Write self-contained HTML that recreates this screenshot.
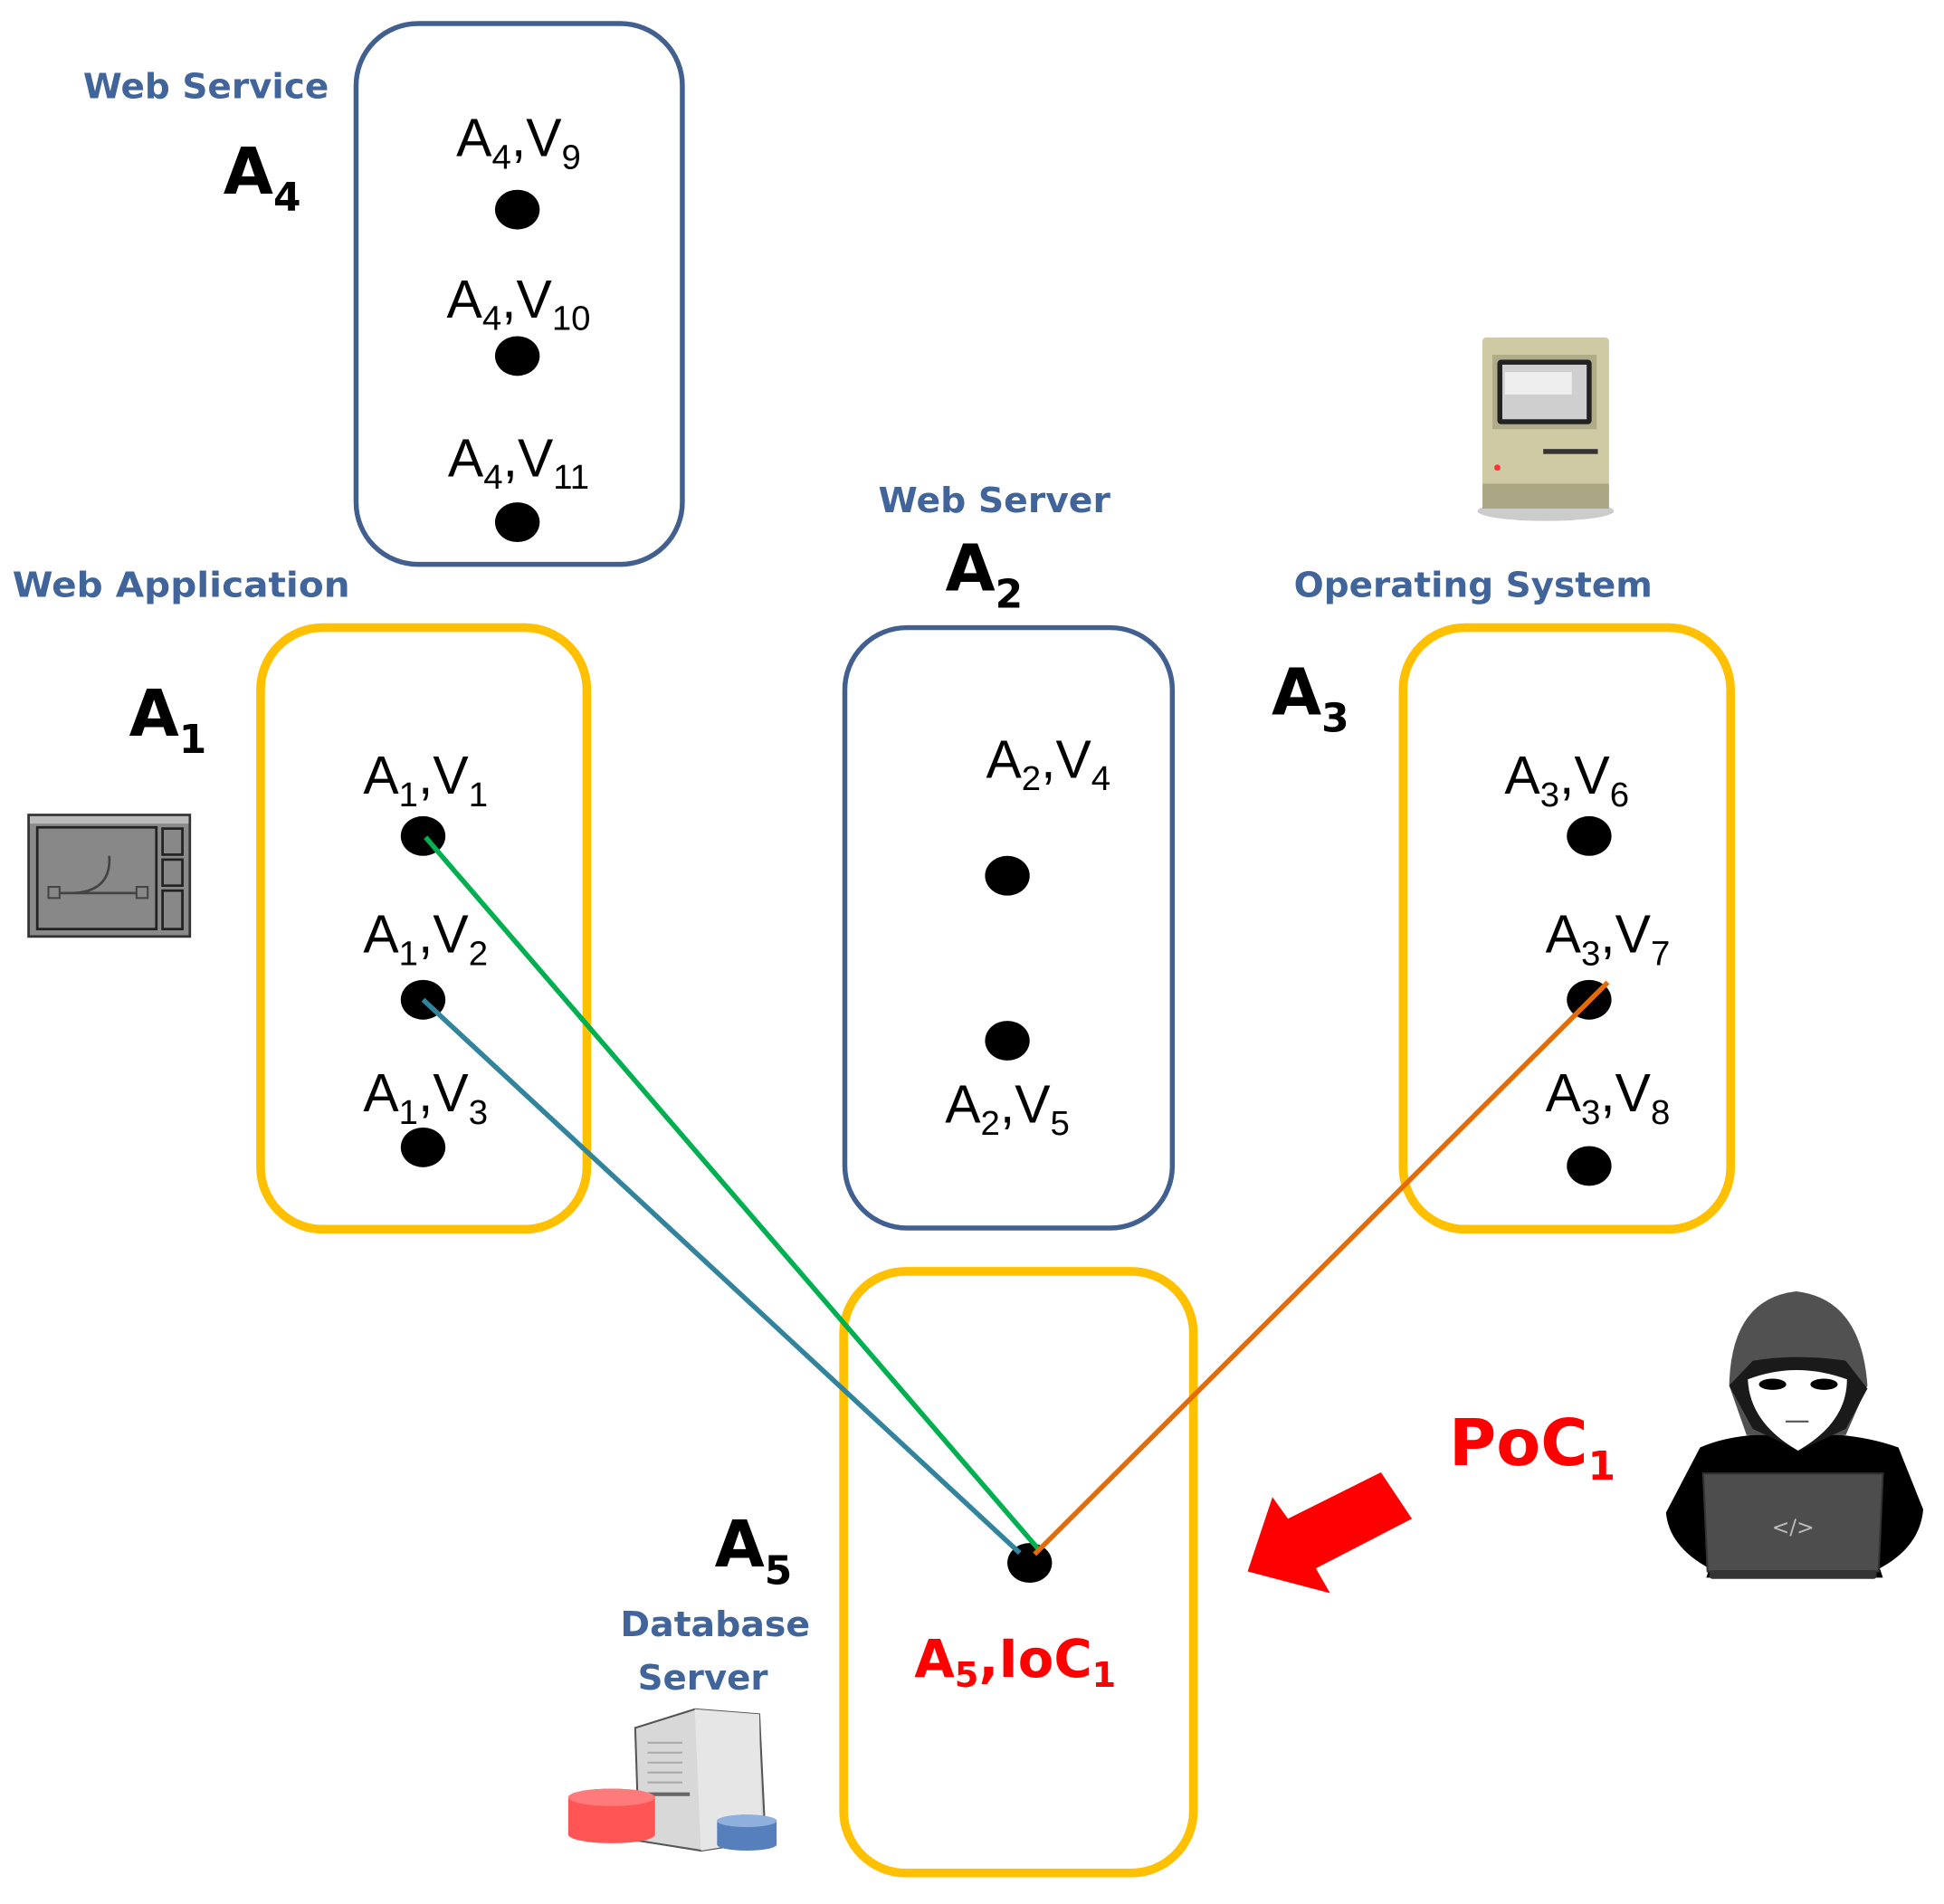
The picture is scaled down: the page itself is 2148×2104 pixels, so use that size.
<!DOCTYPE html>
<html><head><meta charset="utf-8"><style>html,body{margin:0;padding:0;background:#fff}svg{display:block}</style></head>
<body>
<svg width="2148" height="2104" viewBox="0 0 1567 1535" xmlns="http://www.w3.org/2000/svg">
<rect width="1567" height="1535" fill="#fff"/>
<g font-family="DejaVu Sans, Liberation Sans, sans-serif" font-weight="bold" fill="#41659a" font-size="28">
<text x="67" y="79" textLength="198" lengthAdjust="spacingAndGlyphs">Web Service</text>
<text x="10" y="481" textLength="272" lengthAdjust="spacingAndGlyphs">Web Application</text>
<text x="708" y="413" textLength="187" lengthAdjust="spacingAndGlyphs">Web Server</text>
<text x="1043" y="481" textLength="289" lengthAdjust="spacingAndGlyphs">Operating System</text>
<text x="500" y="1319" textLength="153" lengthAdjust="spacingAndGlyphs">Database</text>
<text x="514" y="1362" textLength="105" lengthAdjust="spacingAndGlyphs">Server</text>
</g>
<g font-family="DejaVu Sans, Liberation Sans, sans-serif" font-weight="bold" fill="#000" font-size="52">
<text x="180" y="156">A<tspan font-size="32" dy="14">4</tspan></text>
<text x="104" y="593">A<tspan font-size="32" dy="14">1</tspan></text>
<text x="762" y="476">A<tspan font-size="32" dy="14">2</tspan></text>
<text x="1025" y="576">A<tspan font-size="32" dy="14">3</tspan></text>
<text x="576" y="1263">A<tspan font-size="32" dy="14">5</tspan></text>
</g>
<g fill="none" stroke-width="4">
<rect x="287" y="19" width="263" height="436" rx="50" stroke="#41608f"/>
<rect x="681" y="506" width="264" height="484" rx="50" stroke="#41608f"/>
</g>
<g fill="none" stroke="#ffc000" stroke-width="7">
<rect x="210" y="506" width="263" height="485" rx="50"/>
<rect x="1131" y="506" width="264" height="485" rx="50"/>
<rect x="680" y="1025" width="282" height="485" rx="50"/>
</g>
<g font-family="Liberation Sans, sans-serif" fill="#000" font-size="43" text-anchor="middle">
<text x="418" y="126">A<tspan font-size="28" dy="10">4</tspan><tspan dy="-10">,V</tspan><tspan font-size="28" dy="10">9</tspan></text>
<text x="418" y="256">A<tspan font-size="28" dy="10">4</tspan><tspan dy="-10">,V</tspan><tspan font-size="28" dy="10">10</tspan></text>
<text x="418" y="384">A<tspan font-size="28" dy="10">4</tspan><tspan dy="-10">,V</tspan><tspan font-size="28" dy="10">11</tspan></text>
<text x="343" y="640">A<tspan font-size="28" dy="10">1</tspan><tspan dy="-10">,V</tspan><tspan font-size="28" dy="10">1</tspan></text>
<text x="343" y="768">A<tspan font-size="28" dy="10">1</tspan><tspan dy="-10">,V</tspan><tspan font-size="28" dy="10">2</tspan></text>
<text x="343" y="896">A<tspan font-size="28" dy="10">1</tspan><tspan dy="-10">,V</tspan><tspan font-size="28" dy="10">3</tspan></text>
<text x="845" y="627">A<tspan font-size="28" dy="10">2</tspan><tspan dy="-10">,V</tspan><tspan font-size="28" dy="10">4</tspan></text>
<text x="812" y="905">A<tspan font-size="28" dy="10">2</tspan><tspan dy="-10">,V</tspan><tspan font-size="28" dy="10">5</tspan></text>
<text x="1263" y="640">A<tspan font-size="28" dy="10">3</tspan><tspan dy="-10">,V</tspan><tspan font-size="28" dy="10">6</tspan></text>
<text x="1296" y="768">A<tspan font-size="28" dy="10">3</tspan><tspan dy="-10">,V</tspan><tspan font-size="28" dy="10">7</tspan></text>
<text x="1296" y="896">A<tspan font-size="28" dy="10">3</tspan><tspan dy="-10">,V</tspan><tspan font-size="28" dy="10">8</tspan></text>
</g>
<g fill="#000">
<ellipse cx="417" cy="169" rx="18" ry="16"/>
<ellipse cx="417" cy="287" rx="18" ry="16"/>
<ellipse cx="417" cy="421" rx="18" ry="16"/>
<ellipse cx="341" cy="674" rx="18" ry="16"/>
<ellipse cx="341" cy="806" rx="18" ry="16"/>
<ellipse cx="341" cy="925" rx="18" ry="16"/>
<ellipse cx="812" cy="706" rx="18" ry="16"/>
<ellipse cx="812" cy="839" rx="18" ry="16"/>
<ellipse cx="1281" cy="674" rx="18" ry="16"/>
<ellipse cx="1281" cy="806" rx="18" ry="16"/>
<ellipse cx="1281" cy="940" rx="18" ry="16"/>
<ellipse cx="830" cy="1260" rx="18" ry="16"/>
</g>
<g stroke-width="4" fill="none">
<line x1="343" y1="675" x2="838" y2="1250" stroke="#00b050"/>
<line x1="341" y1="806" x2="822" y2="1252" stroke="#31849b"/>
<line x1="1296" y1="792" x2="834" y2="1253" stroke="#e36c09"/>
</g>
<g font-family="DejaVu Sans, Liberation Sans, sans-serif" font-weight="bold" fill="#ff0000">
<text x="737" y="1352" font-size="42">A<tspan font-size="28" dy="8">5</tspan><tspan dy="-8">,IoC</tspan><tspan font-size="28" dy="8">1</tspan></text>
<text x="1168" y="1181" font-size="52">PoC<tspan font-size="32" dy="12">1</tspan></text>
</g>
<g>
<rect x="23" y="657" width="130" height="98" fill="#8a8a8a" stroke="#333" stroke-width="2"/>
<rect x="24" y="658" width="128" height="6" fill="#bbb"/>
<rect x="30" y="667" width="96" height="82" fill="#888" stroke="#222" stroke-width="2"/>
<rect x="131" y="668" width="16" height="21" fill="#888" stroke="#222" stroke-width="2"/>
<rect x="131" y="693" width="16" height="21" fill="#888" stroke="#222" stroke-width="2"/>
<rect x="131" y="718" width="16" height="31" fill="#888" stroke="#222" stroke-width="2"/>
<path d="M44 720 L114 720 M60 720 Q90 718 88 690" stroke="#444" stroke-width="2" fill="none"/>
<rect x="39" y="715" width="9" height="9" fill="#888" stroke="#444" stroke-width="1.5"/>
<rect x="110" y="715" width="9" height="9" fill="#888" stroke="#444" stroke-width="1.5"/>
</g>
<g>
<ellipse cx="1246" cy="412" rx="55" ry="8" fill="#ccc"/>
<rect x="1195" y="272" width="102" height="138" rx="3" fill="#cfc9a4"/>
<rect x="1195" y="390" width="102" height="20" fill="#aba684"/>
<rect x="1203" y="286" width="84" height="60" fill="#b0ab88"/>
<rect x="1207" y="290" width="76" height="52" rx="3" fill="#222"/>
<rect x="1211" y="294" width="68" height="44" fill="#cfcfcf"/>
<rect x="1213" y="300" width="54" height="18" fill="#eee"/>
<rect x="1244" y="362" width="44" height="4" fill="#333"/>
<circle cx="1207" cy="377" r="2.5" fill="#f33"/>
</g>
<g>
<path d="M512 1393 L560 1378 L612 1382 L617 1484 L565 1492 L515 1484 Z" fill="#d8d8d8" stroke="#555" stroke-width="1.5"/>
<path d="M560 1378 L612 1382 L614 1484 L565 1492 Z" fill="#e6e6e6"/>
<g stroke="#aaa" stroke-width="1.5"><line x1="522" y1="1405" x2="550" y2="1405"/><line x1="522" y1="1413" x2="550" y2="1413"/><line x1="522" y1="1421" x2="550" y2="1421"/><line x1="522" y1="1429" x2="550" y2="1429"/><line x1="522" y1="1437" x2="550" y2="1437"/></g>
<rect x="522" y="1445" width="34" height="3" fill="#666"/>
<path d="M458 1449 a35 7 0 0 1 70 0 v30 a35 7 0 0 1 -70 0 Z" fill="#ff5555"/>
<ellipse cx="493" cy="1449" rx="35" ry="7" fill="#ff7b7b"/>
<path d="M578 1468 a24 5 0 0 1 48 0 v19 a24 5 0 0 1 -48 0 Z" fill="#5580bb"/>
<ellipse cx="602" cy="1468" rx="24" ry="5" fill="#8fb0dd"/>
</g>
<g transform="translate(783.4,767.3) scale(0.4996)">
<polygon points="445,1000 485,880 510,915 660,840 710,915 555,995 578,1035" fill="#ff0000"/>
<path d="M1120 905 L1175 800 Q1220 780 1290 778 L1370 778 Q1440 780 1495 800 L1535 900 Q1530 960 1465 995 L1470 1010 L1185 1010 L1190 995 Q1125 960 1120 905 Z" fill="#000"/>
<path d="M1222 700 Q1225 560 1330 548 Q1435 560 1445 700 L1410 780 L1250 780 Z" fill="#515151"/>
<path d="M1222 700 L1260 660 Q1330 648 1410 660 L1445 705 L1410 770 L1335 805 L1260 770 Z" fill="#1a1a1a"/>
<path d="M1252 690 Q1330 660 1412 690 Q1412 760 1333 805 Q1255 760 1252 690 Z" fill="#fff"/>
<ellipse cx="1292" cy="698" rx="22" ry="9" fill="#000"/>
<ellipse cx="1375" cy="698" rx="22" ry="9" fill="#000"/>
<line x1="1313" y1="758" x2="1350" y2="758" stroke="#555" stroke-width="3"/>
<path d="M1180 842 L1470 842 L1463 1000 L1187 1000 Z" fill="#4d4d4d" stroke="#333" stroke-width="3"/>
<rect x="1190" y="998" width="270" height="14" rx="5" fill="#333"/>
<text x="1325" y="940" text-anchor="middle" font-family="DejaVu Sans, sans-serif" font-size="34" fill="#bbb">&lt;/&gt;</text>
</g>
</svg>
</body></html>
